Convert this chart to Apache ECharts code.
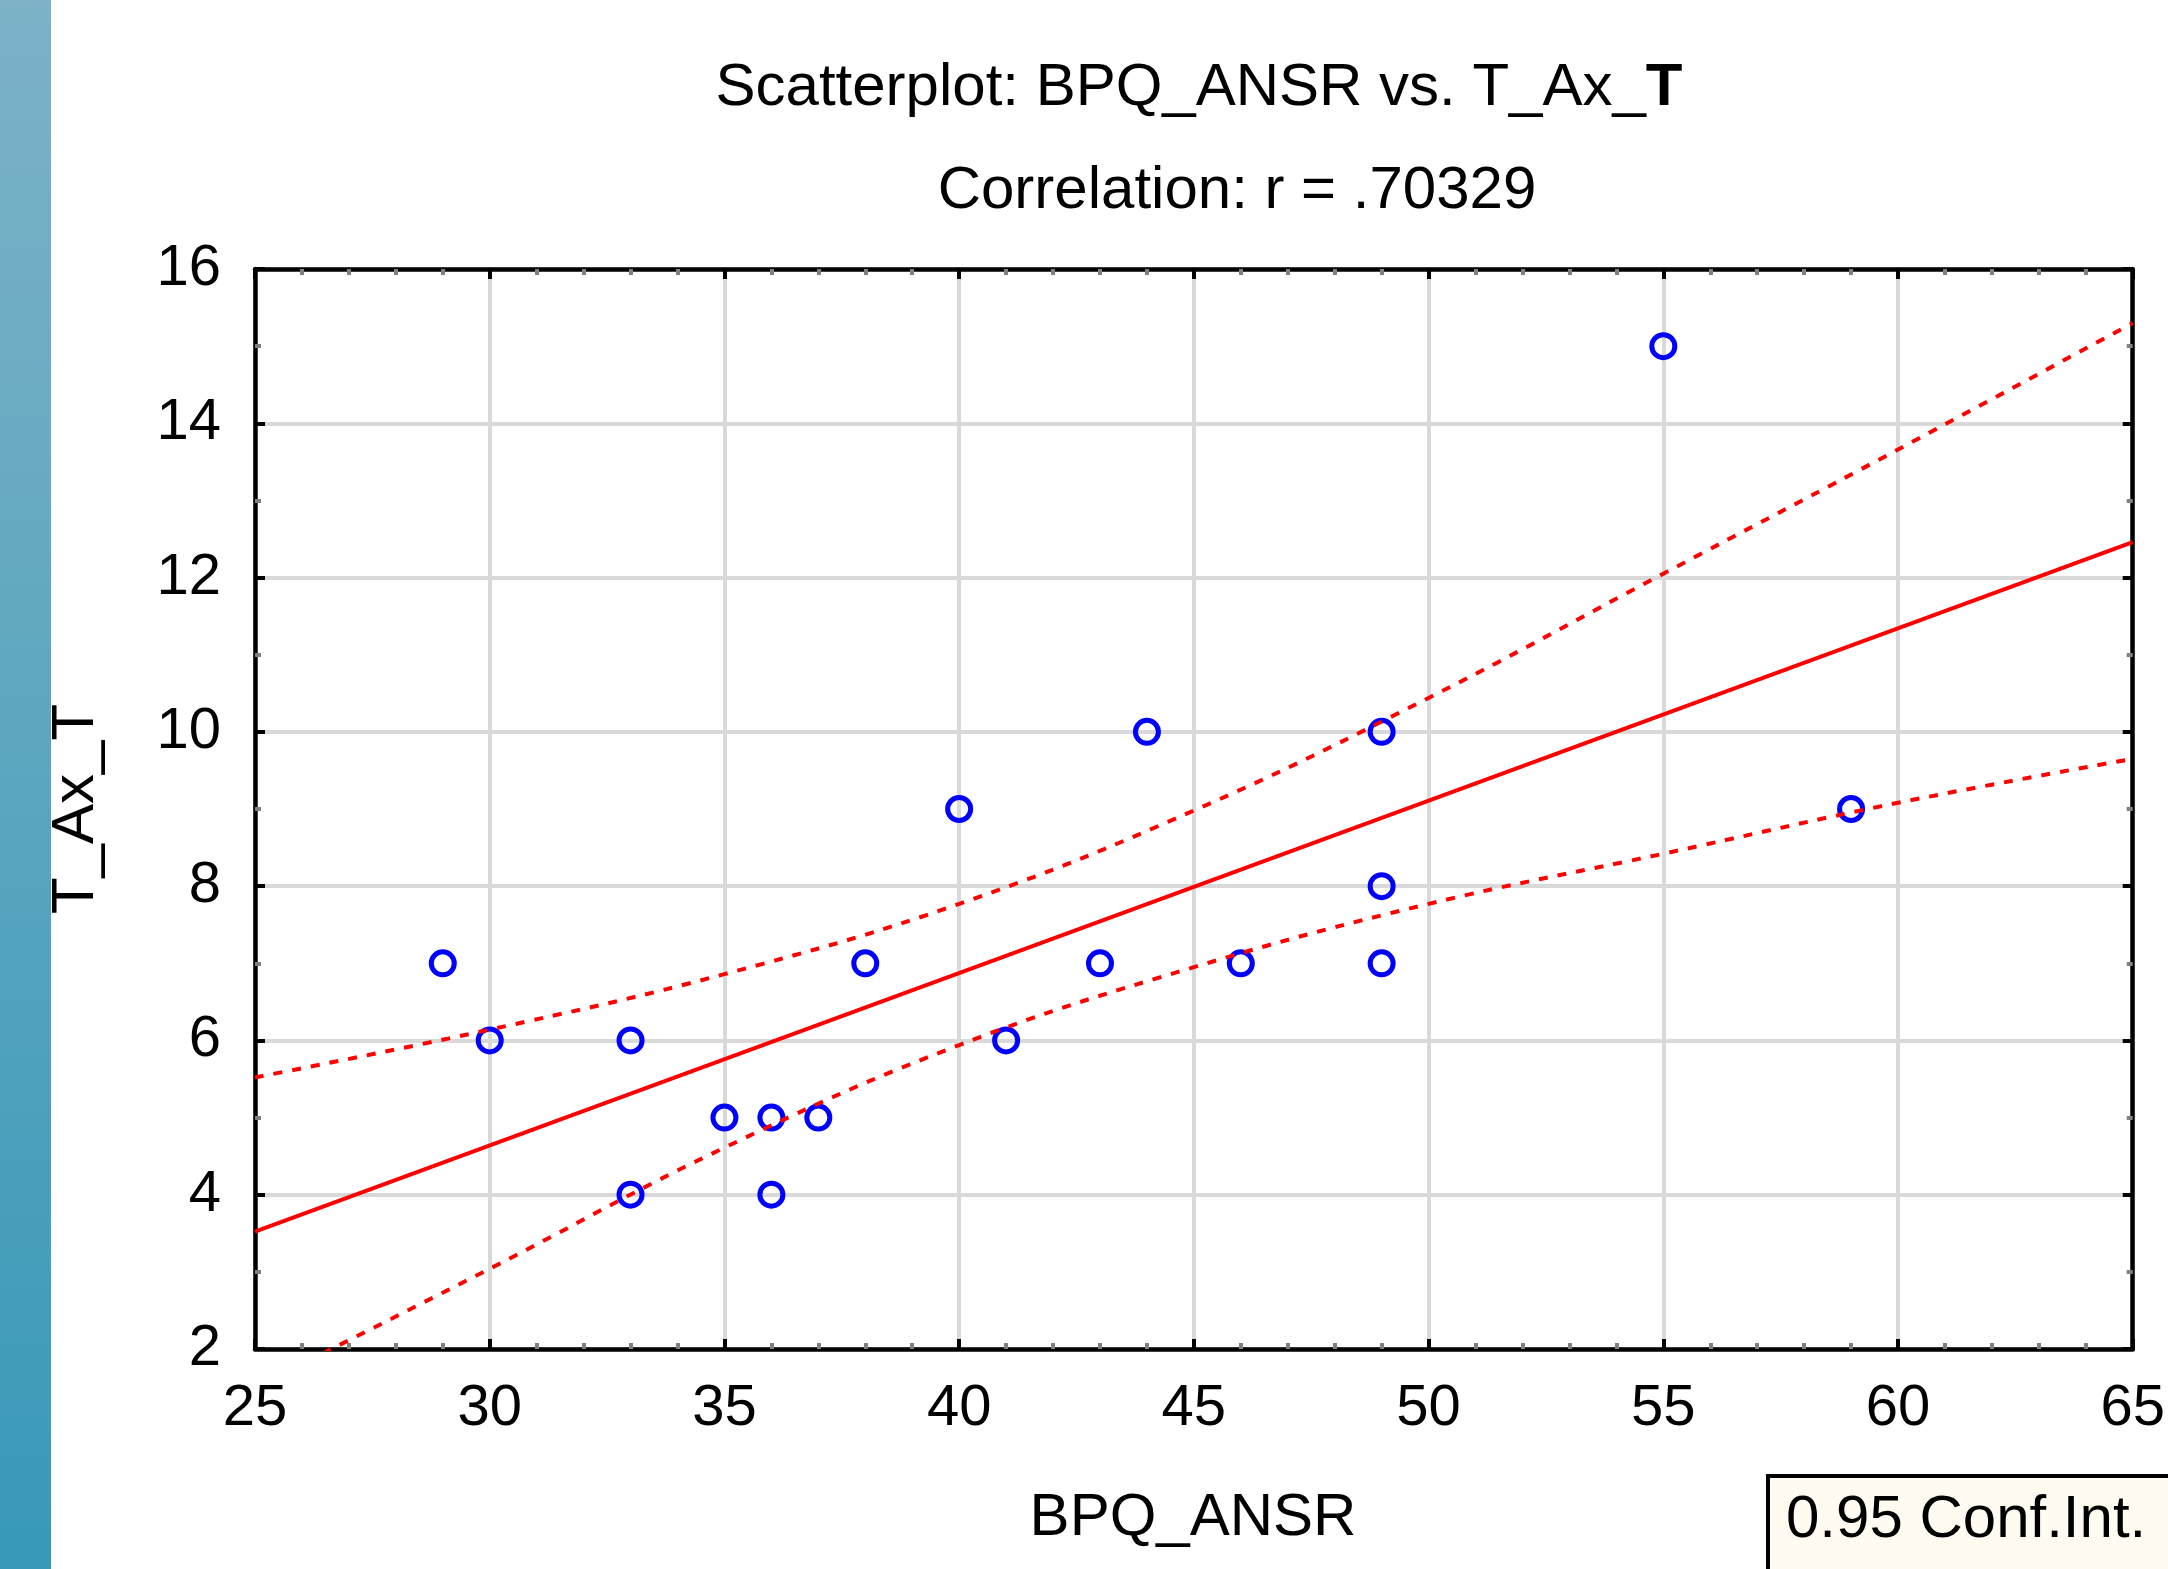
<!DOCTYPE html>
<html>
<head>
<meta charset="utf-8">
<script src="https://cdn.jsdelivr.net/npm/echarts@6/dist/echarts.min.js"></script>
<style>
html,body{margin:0;padding:0;background:#fff;}
#chart{width:2168px;height:1569px;}
</style>
</head>
<body>
<div id="chart"></div>
<script>
// ---- data ----
const titleText = 'Scatterplot: BPQ_ANSR vs. T_Ax_';
const titleBoldText = 'T';
const subtitleText = 'Correlation: r = .70329';
const xName = 'BPQ_ANSR';
const yName = 'T_Ax_T';
const legendText = '0.95 Conf.Int.';

const bpqAnsr = [29, 30, 33, 33, 35, 36, 36, 37, 38, 40, 41, 43, 44, 46, 49, 49, 49, 55, 59];
const tAxT    = [ 7,  6,  6,  4,  5,  5,  4,  5,  7,  9,  6,  7, 10,  7, 10,  8,  7, 15,  9];

const fitX   = [25, 65];
const fitY   = [3.52, 12.46];

const bandX  = [25, 30, 35, 40, 45, 50, 55, 60, 65];
const upperY = [5.52, 6.14, 6.86, 7.77, 8.98, 10.44, 12.05, 13.66, 15.30];
const lowerY = [1.50, 3.04, 4.61, 5.94, 6.95, 7.77, 8.42, 9.08, 9.65];

const xTicks = {min: 25, max: 65, step: 5};
const yTicks = {min: 2, max: 16, step: 2};

// ---- build ----
const FONT = '"Liberation Sans", Arial, sans-serif';
const zip = (a, b) => a.map((v, i) => [v, b[i]]);

const chart = echarts.init(document.getElementById('chart'), null, {renderer: 'canvas'});

function axisBase(pos, t, minorSplit, showLabel) {
  return {
    type: 'value', position: pos, min: t.min, max: t.max, interval: t.step,
    axisLine: {show: true, onZero: false, lineStyle: {color: '#000', width: 4.5}},
    axisTick: {show: true, inside: true, length: 10, lineStyle: {color: '#000', width: 4}},
    minorTick: {show: true, splitNumber: minorSplit, length: 6, lineStyle: {color: '#808080', width: 4}},
    splitLine: {show: showLabel, lineStyle: {color: '#d9d9d9', width: 4}},
    minorSplitLine: {show: false},
    axisLabel: {show: showLabel, color: '#000', fontFamily: FONT, fontSize: 58, margin: 31}
  };
}

const xMain = axisBase('bottom', xTicks, 5, true);
const xTop = axisBase('top', xTicks, 5, false);
const yMain = axisBase('left', yTicks, 2, true);
yMain.axisLabel.margin = 34;
const yRight = axisBase('right', yTicks, 2, false);

const option = {
  backgroundColor: '#fff',
  animation: false,
  grid: {left: 255, right: 29.5, top: 269, bottom: 220, containLabel: false},
  xAxis: [xMain, xTop],
  yAxis: [yMain, yRight],
  series: [
    {
      type: 'scatter', xAxisIndex: 0, yAxisIndex: 0, z: 2,
      data: zip(bpqAnsr, tAxT),
      symbol: 'circle', symbolSize: 23,
      itemStyle: {color: 'rgba(255,255,255,0)', borderColor: '#0000ff', borderWidth: 5, opacity: 1}
    },
    {
      type: 'line', xAxisIndex: 0, yAxisIndex: 0, z: 3,
      data: zip(fitX, fitY), showSymbol: false, symbol: 'none',
      lineStyle: {color: '#ff0000', width: 4, type: 'solid'}
    },
    {
      type: 'line', xAxisIndex: 0, yAxisIndex: 0, z: 3,
      data: zip(bandX, upperY), showSymbol: false, symbol: 'none', smooth: 0.4,
      lineStyle: {color: '#ff0000', width: 4, type: [9, 10]}
    },
    {
      type: 'line', xAxisIndex: 0, yAxisIndex: 0, z: 3,
      data: zip(bandX, lowerY), showSymbol: false, symbol: 'none', smooth: 0.4,
      lineStyle: {color: '#ff0000', width: 4, type: [9, 10]}
    }
  ],
  graphic: [
    {
      type: 'rect', left: 0, top: 0, z: 10,
      shape: {x: 0, y: 0, width: 51, height: 1569},
      style: {fill: new echarts.graphic.LinearGradient(0, 0, 0, 1, [
        {offset: 0, color: '#7db2c7'}, {offset: 1, color: '#3899b8'}])}
    },
    {
      type: 'text', x: 1199, y: 88, z: 10,
      style: {
        text: '{n|' + titleText + '}{b|' + titleBoldText + '}',
        align: 'center', verticalAlign: 'middle',
        rich: {
          n: {fontFamily: FONT, fontSize: 60, fill: '#000', color: '#000'},
          b: {fontFamily: FONT, fontSize: 60, fontWeight: 'bold', fill: '#000', color: '#000'}
        }
      }
    },
    {
      type: 'text', x: 1237, y: 191, z: 10,
      style: {text: subtitleText, fontFamily: FONT, fontSize: 60, fill: '#000', align: 'center', verticalAlign: 'middle'}
    },
    {
      type: 'text', x: 1193, y: 1518, z: 10,
      style: {text: xName, fontFamily: FONT, fontSize: 60, fill: '#000', align: 'center', verticalAlign: 'middle'}
    },
    {
      type: 'text', x: 76, y: 809, rotation: Math.PI / 2, z: 10,
      style: {text: yName, fontFamily: FONT, fontSize: 60, fill: '#000', align: 'center', verticalAlign: 'middle'}
    },
    {
      type: 'rect', z: 10,
      shape: {x: 1768, y: 1476, width: 500, height: 200},
      style: {fill: '#fffbf0', stroke: '#000', lineWidth: 4}
    },
    {
      type: 'text', x: 1786, y: 1520, z: 11,
      style: {text: legendText, fontFamily: FONT, fontSize: 60, fill: '#000', align: 'left', verticalAlign: 'middle'}
    }
  ]
};
chart.setOption(option);
</script>
</body>
</html>
